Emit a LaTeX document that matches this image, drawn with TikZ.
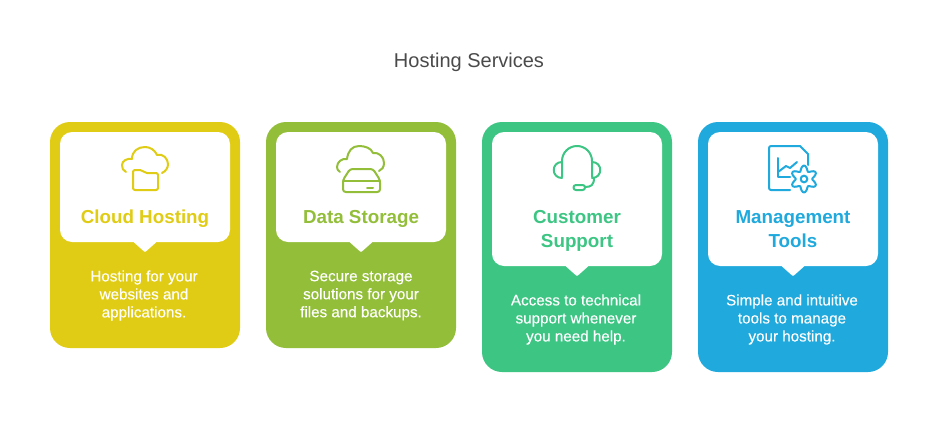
\documentclass[tikz,border=0pt]{standalone}
\usepackage{fontspec}
\setmainfont{Liberation Sans}
\newfontfamily\medfont[FakeBold=0.25]{Liberation Sans}
\definecolor{cy}{HTML}{E0CC14}
\definecolor{cg}{HTML}{93BE3A}
\definecolor{ct}{HTML}{3CC583}
\definecolor{cb}{HTML}{1FA9DC}
\definecolor{ctitle}{HTML}{4A4A4A}
\tikzset{
  card/.style={inner sep=0pt,minimum width=142.5pt,rounded corners=15pt},
  panel/.style={inner sep=0pt,fill=white,minimum width=127.5pt,rounded corners=9pt},
  notch/.style={fill=white,rounded corners=0.8pt},
  head/.style={inner sep=0pt,align=center,font=\fontsize{14.1}{18}\selectfont\bfseries},
  body/.style={inner sep=0pt,align=center,text=white,font=\fontsize{11.4}{13.5}\selectfont\medfont},
  icon/.style={line width=1.5pt,line cap=round,line join=round},
}
\begin{document}
\begin{tikzpicture}[x=0.75pt,y=-0.75pt]
\useasboundingbox (0,0) rectangle (938,446);
\node[inner sep=0pt,text=ctitle,font=\fontsize{15}{18}\selectfont] (title) at (469,62) {Hosting Services};
% cards
\node[card,fill=cy,minimum height=169.5pt] (c1) at (145,235) {};
\node[card,fill=cg,minimum height=169.5pt] (c2) at (361,235) {};
\node[card,fill=ct,minimum height=187.5pt] (c3) at (577,247) {};
\node[card,fill=cb,minimum height=187.5pt] (c4) at (793,247) {};
% panels
\node[panel,minimum height=82.5pt] (p1) at (145,187) {};
\node[panel,minimum height=82.5pt] (p2) at (361,187) {};
\node[panel,minimum height=100.5pt] (p3) at (577,199) {};
\node[panel,minimum height=100.5pt] (p4) at (793,199) {};
% pointers
\foreach \p in {p1,p2,p3,p4}{
  \fill[notch] ([xshift=-9pt,yshift=0.5pt]\p.south) -- ([yshift=-7.5pt]\p.south) -- ([xshift=9pt,yshift=0.5pt]\p.south) -- cycle;
}
% headings
\node[head,text=cy] (h1) at (145,219) {Cloud Hosting};
\node[head,text=cg] (h2) at (361,219) {Data Storage};
\node[head,text=ct] (h3) at (577,231) {Customer\\Support};
\node[head,text=cb] (h4) at (793,229) {Management\\Tools};
% bodies
\node[body] (b1) at (144,295.5) {Hosting for your\\websites and\\applications.};
\node[body] (b2) at (361,295.5) {Secure storage\\solutions for your\\files and backups.};
\node[body] (b3) at (576,319.5) {Access to technical\\support whenever\\you need help.};
\node[body] (b4) at (792,319.5) {Simple and intuitive\\tools to manage\\your hosting.};
% icon 1: cloud and folder
\draw[icon,cy] (126,172) .. controls (123,171) and (122,168) .. (122,165)
  .. controls (122,161) and (127,158) .. (132,159)
  .. controls (132,151) and (138,147) .. (145,147)
  .. controls (150,147) and (155,150) .. (157,155)
  .. controls (163,153) and (168,159) .. (168,164)
  .. controls (168,168) and (166,171) .. (162,173);
\draw[icon,cy,rounded corners=1.5pt] (133,170) -- (142,170) -- (145,173) -- (158,173) -- (158,190) -- (133,190) -- cycle;
% icon 2: cloud and drive
\draw[icon,cg] (340,172) .. controls (338,171) and (337,169) .. (337,167)
  .. controls (337,162) and (342,158) .. (347,159)
  .. controls (348,151) and (352,146) .. (359,146)
  .. controls (365,146) and (371,148) .. (373,153)
  .. controls (379,152) and (384,157) .. (384,163)
  .. controls (384,167) and (382,170) .. (379,171);
\draw[icon,cg,rounded corners=2pt] (350,169) -- (373,169) -- (380,180) -- (380,192) -- (343,192) -- (343,180) -- cycle;
\draw[icon,cg] (343,181) -- (380,181);
\draw[icon,cg] (367,188) -- (373,188);
% icon 3: headset
\draw[icon,ct] (562,177) -- (562,161) arc[start angle=180,end angle=0,radius=11.25pt] -- (592,177);
\draw[icon,ct] (562,162) .. controls (551,162) and (551,178) .. (562,178);
\draw[icon,ct] (592,162) .. controls (603,162) and (603,178) .. (592,178);
\draw[icon,ct] (594,178) .. controls (594,185) and (591,187) .. (585,187);
\draw[icon,ct,rounded corners=1.8pt] (573.5,185) rectangle (585,190);
% icon 4: document, chart, gear
\draw[icon,cb] (790,190) -- (771,190) .. controls (770,190) and (769,189) .. (769,188)
  -- (769,148) .. controls (769,147) and (770,146) .. (771,146) -- (800,146) -- (808,154) -- (808,165);
\draw[icon,cb] (778,158) -- (778,177) -- (790,177);
\draw[icon,cb] (778,172) -- (786,166) -- (790,168) -- (797,162);
\draw[icon,cb] plot[domain=0:360,samples=73,smooth] ({804+(10.8-2.6*cos(6*\x))*cos(\x)},{179+(10.8-2.6*cos(6*\x))*sin(\x)}) -- cycle;
\draw[icon,cb] (804,179) circle (2.5pt);
\end{tikzpicture}
\end{document}
